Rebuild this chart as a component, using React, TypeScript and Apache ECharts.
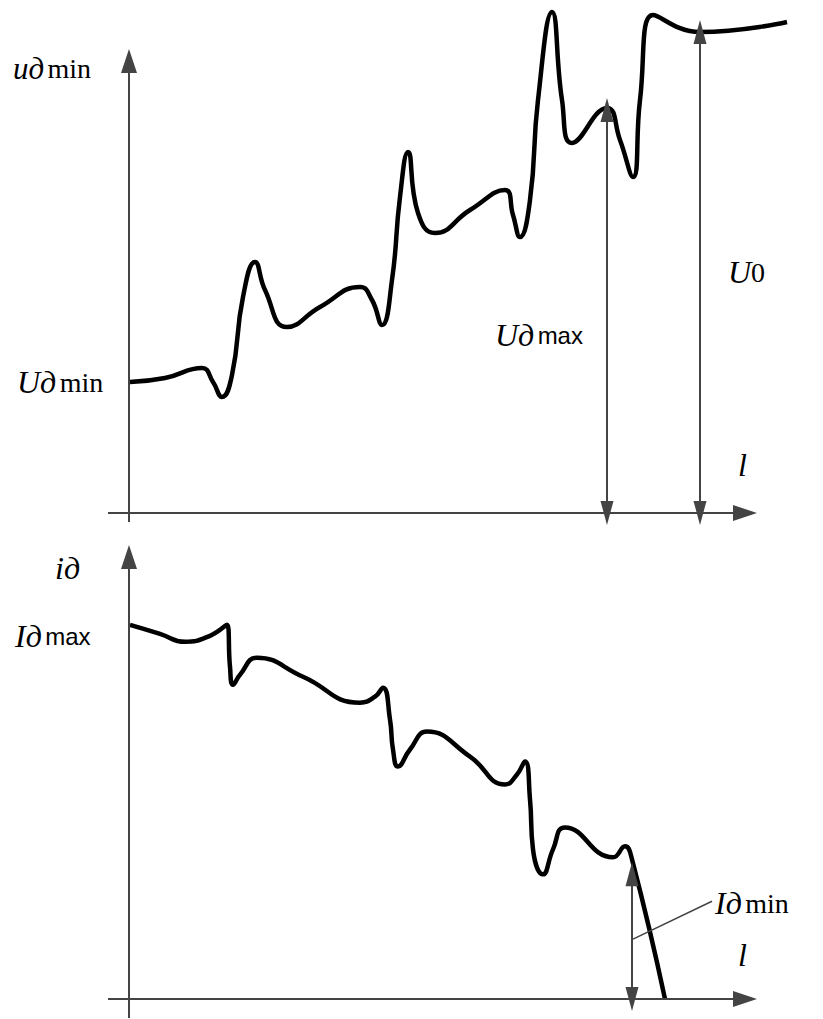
import React, { useEffect, useRef } from 'react';
import * as echarts from 'echarts';

// Upper panel: voltage u along l (schematic units, origin at axes crossing)
const voltageL = [1, 36, 73, 84, 93, 103, 114, 126, 136, 158, 191, 231, 243, 253, 263, 271, 279, 289, 306, 341, 376, 384, 391, 401, 409, 423, 433, 443, 478, 491, 504, 511, 524, 571, 658];
const voltageU = [131, 135, 145, 131, 116, 138, 216, 251, 223, 186, 206, 226, 213, 188, 233, 316, 361, 300, 280, 303, 323, 298, 276, 313, 413, 501, 413, 370, 405, 373, 336, 413, 498, 481, 491];

// Lower panel: current i along l
const currentL = [1, 31, 56, 81, 98, 101, 104, 111, 128, 174, 231, 246, 254, 261, 264, 269, 281, 298, 341, 376, 388, 396, 401, 404, 414, 424, 436, 484, 496, 503, 536];
const currentI = [375, 366, 358, 364, 375, 333, 315, 325, 342, 323, 297, 303, 312, 280, 250, 233, 250, 268, 243, 215, 225, 238, 200, 150, 125, 150, 172, 142, 153, 140, 0];

// Dimension arrows
const uMaxArrow = { l: 478, from: 0, to: 403 };
const u0Arrow = { l: 571, from: 0, to: 481 };
const iMinArrow = { l: 503, from: 0, to: 125 };
const iMinLeaderL = [504, 583];
const iMinLeaderI = [60, 98];

// Axis extents and drawn axis segments
const xRange = { min: -29, max: 674, axisFrom: -21, axisTo: 616 };
const topRange = { yMin: -17, yMax: 513, axisFrom: -9, axisTo: 452 };
const botRange = { yMin: -20, yMax: 465, axisFrom: -19, axisTo: 443 };

const pairs = (xs: number[], ys: number[]) => xs.map((x, i) => [x, ys[i]]);

const SERIF = '"Liberation Serif", "DejaVu Serif", serif';
const SANS = '"Liberation Sans", Arial, sans-serif';
const TXT = '#262626';
const LINE = '#444';

const rich = {
  it: { fontFamily: SERIF, fontStyle: 'italic', fontSize: 32, color: TXT },
  itS: { fontFamily: SERIF, fontStyle: 'italic', fontSize: 31, color: TXT },
  rm: { fontFamily: SERIF, fontSize: 28, color: TXT },
  sn: { fontFamily: SANS, fontSize: 24, color: TXT },
};

const txt = (text: string, x: number, y: number) => ({
  type: 'text',
  x,
  y,
  style: { text, rich, textVerticalAlign: 'middle', textAlign: 'left' },
  silent: true,
});

export default function App() {
  const ref = useRef<HTMLDivElement>(null);
  useEffect(() => {
    if (!ref.current) return;
    const chart = echarts.init(ref.current, undefined, { renderer: 'svg' });
    const axisBase = {
      type: 'value',
      axisLine: { show: false },
      axisTick: { show: false },
      axisLabel: { show: false },
      splitLine: { show: false },
    };
    const dimArrow = (a: { l: number; from: number; to: number }) => [
      { coord: [a.l, a.from] },
      { coord: [a.l, a.to] },
    ];
    const vAxis = (r: { axisFrom: number; axisTo: number }) => [
      { coord: [0, r.axisFrom], symbol: 'none' },
      { coord: [0, r.axisTo], symbol: 'triangle', symbolSize: [16, 24] },
    ];
    const hAxis = () => [
      { coord: [xRange.axisFrom, 0], symbol: 'none' },
      { coord: [xRange.axisTo, 0], symbol: 'triangle', symbolSize: [16, 24] },
    ];
    const markLine = (items: any[]) => ({
      silent: true,
      symbol: ['triangle', 'triangle'],
      symbolSize: [13, 24],
      label: { show: false },
      lineStyle: { color: LINE, width: 2, type: 'solid' },
      emphasis: { disabled: true },
      data: items,
    });
    chart.setOption({
      animation: false,
      backgroundColor: '#fff',
      grid: [
        { left: 100, right: 20, top: 0, height: 530 },
        { left: 100, right: 20, top: 535, height: 484 },
      ],
      xAxis: [
        { ...axisBase, gridIndex: 0, min: xRange.min, max: xRange.max },
        { ...axisBase, gridIndex: 1, min: xRange.min, max: xRange.max },
      ],
      yAxis: [
        { ...axisBase, gridIndex: 0, min: topRange.yMin, max: topRange.yMax },
        { ...axisBase, gridIndex: 1, min: botRange.yMin, max: botRange.yMax },
      ],
      series: [
        {
          type: 'line',
          xAxisIndex: 0,
          yAxisIndex: 0,
          data: pairs(voltageL, voltageU),
          smooth: 0.5,
          showSymbol: false,
          clip: false,
          z: 3,
          lineStyle: { color: '#000', width: 4.5 },
          markLine: markLine([hAxis(), vAxis(topRange), dimArrow(uMaxArrow), dimArrow(u0Arrow)]),
        },
        {
          type: 'line',
          xAxisIndex: 1,
          yAxisIndex: 1,
          data: pairs(currentL, currentI),
          smooth: 0.5,
          showSymbol: false,
          clip: false,
          z: 3,
          lineStyle: { color: '#000', width: 4.5 },
          markLine: markLine([hAxis(), vAxis(botRange), dimArrow(iMinArrow)]),
        },
        {
          type: 'line',
          xAxisIndex: 1,
          yAxisIndex: 1,
          data: pairs(iMinLeaderL, iMinLeaderI),
          showSymbol: false,
          clip: false,
          lineStyle: { color: LINE, width: 1.5 },
        },
      ],
      graphic: [
        txt('{itS|uд} {rm|min}', 13, 68),
        txt('{it|Uд} {rm|min}', 17, 382),
        txt('{it|Uд} {sn|max}', 495, 335),
        txt('{it|U}{rm|0}', 728, 272),
        txt('{it|l}', 738, 465),
        txt('{it|iд}', 55, 568),
        txt('{it|Iд} {sn|max}', 15, 636),
        txt('{it|Iд} {rm|min}', 715, 903),
        txt('{it|l}', 738, 955),
      ],
    });
    return () => chart.dispose();
  }, []);
  return (
    <div
      ref={ref}
      style={{ position: 'fixed', left: 0, top: 0, width: 823, height: 1019 }}
    />
  );
}
